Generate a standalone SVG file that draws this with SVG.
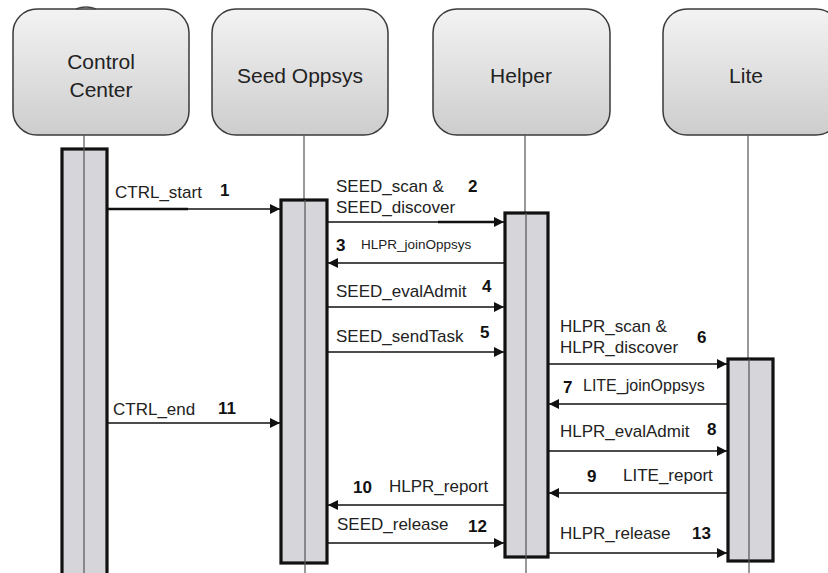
<svg xmlns="http://www.w3.org/2000/svg" width="828" height="573" viewBox="0 0 828 573">
<defs>
<linearGradient id="hg" x1="0" y1="0" x2="0" y2="1">
<stop offset="0" stop-color="#f3f3f3"/>
<stop offset="1" stop-color="#cdcdcd"/>
</linearGradient>
<marker id="ah" viewBox="0 0 10 10" refX="10" refY="5" markerWidth="10" markerHeight="10" markerUnits="userSpaceOnUse" orient="auto">
<path d="M0,0 L10,5 L0,10 z" fill="#111"/>
</marker>
<style>
.head{fill:url(#hg);stroke:#3a3a3a;stroke-width:1.5}
.ht{font-family:"Liberation Sans",Arial,sans-serif;font-size:21px;fill:#222;text-anchor:middle}
.life{stroke:#555;stroke-width:1.2}
.act{fill:#d5d5da;stroke:#111;stroke-width:3.2}
.msg{stroke:#111;stroke-width:1.5;fill:none;marker-end:url(#ah)}
.thick{stroke:#111;stroke-width:2.6}
.lb{font-family:"Liberation Sans",Arial,sans-serif;font-size:17px;fill:#222}
.num{font-family:"Liberation Sans",Arial,sans-serif;font-size:17px;font-weight:bold;fill:#111}
</style>
</defs>
<rect width="828" height="573" fill="#fff"/>
<g id="control-center">
<rect class="head" x="13" y="9" width="176" height="126" rx="24"/>
<path d="M76,9 Q86,5 96,9" fill="none" stroke="#444" stroke-width="1.5"/>
<text class="ht" x="101" y="69">Control</text>
<text class="ht" x="101" y="97">Center</text>
<rect class="act" x="62" y="149" width="45" height="430"/>
<line class="life" x1="84" y1="135" x2="84" y2="573"/>
</g>
<g id="seed-oppsys">
<rect class="head" x="212" y="9" width="176" height="126" rx="24"/>
<text class="ht" x="300" y="83">Seed Oppsys</text>
<line class="life" x1="304" y1="135" x2="304" y2="200"/>
<rect class="act" x="281" y="200" width="46" height="363"/>
<line class="life" x1="305" y1="200" x2="305" y2="573"/>
</g>
<g id="helper">
<rect class="head" x="433" y="9" width="177" height="126" rx="24"/>
<text class="ht" x="521" y="83">Helper</text>
<line class="life" x1="525" y1="135" x2="525" y2="213"/>
<rect class="act" x="505" y="213" width="43" height="344"/>
<line class="life" x1="526" y1="213" x2="526" y2="573"/>
</g>
<g id="lite">
<rect class="head" x="663" y="9" width="177" height="126" rx="24"/>
<text class="ht" x="746" y="83">Lite</text>
<line class="life" x1="748" y1="135" x2="748" y2="359"/>
<rect class="act" x="728" y="359" width="45" height="202"/>
<line class="life" x1="749" y1="359" x2="749" y2="573"/>
</g>
<g id="connectors">
<line class="msg" x1="107" y1="209" x2="280" y2="209"/>
<line class="thick" x1="107" y1="209" x2="188" y2="209"/>
<line class="msg" x1="327" y1="222" x2="504" y2="222"/>
<line class="thick" x1="438" y1="222" x2="496" y2="222"/>
<line class="msg" x1="505" y1="263" x2="328" y2="263"/>
<line class="msg" x1="327" y1="307" x2="504" y2="307"/>
<line class="msg" x1="327" y1="352" x2="504" y2="352"/>
<line class="msg" x1="548" y1="364" x2="727" y2="364"/>
<line class="msg" x1="728" y1="404" x2="549" y2="404"/>
<line class="msg" x1="107" y1="423" x2="280" y2="423"/>
<line class="msg" x1="548" y1="451" x2="727" y2="451"/>
<line class="msg" x1="728" y1="493" x2="549" y2="493"/>
<line class="msg" x1="505" y1="505" x2="328" y2="505"/>
<line class="msg" x1="327" y1="543" x2="504" y2="543"/>
<line class="msg" x1="548" y1="553" x2="727" y2="553"/>
</g>
<g id="labels">
<text class="lb" x="115" y="198">CTRL_start</text><text class="num" x="220" y="196">1</text>
<text class="lb" x="336" y="192">SEED_scan &amp;</text>
<text class="lb" x="336" y="213">SEED_discover</text><text class="num" x="468" y="192">2</text>
<text class="num" x="336" y="251">3</text><text class="lb" x="361" y="249" style="font-size:13.5px">HLPR_joinOppsys</text>
<text class="lb" x="336" y="297">SEED_evalAdmit</text><text class="num" x="482" y="292">4</text>
<text class="lb" x="336" y="342">SEED_sendTask</text><text class="num" x="480" y="338">5</text>
<text class="lb" x="560" y="332">HLPR_scan &amp;</text>
<text class="lb" x="560" y="353">HLPR_discover</text><text class="num" x="697" y="343">6</text>
<text class="num" x="563" y="393">7</text><text class="lb" x="583" y="391" style="font-size:16px">LITE_joinOppsys</text>
<text class="lb" x="113" y="415">CTRL_end</text><text class="num" x="218" y="414">11</text>
<text class="lb" x="560" y="437">HLPR_evalAdmit</text><text class="num" x="707" y="435">8</text>
<text class="num" x="587" y="482">9</text><text class="lb" x="623" y="481">LITE_report</text>
<text class="num" x="353" y="493">10</text><text class="lb" x="389" y="492">HLPR_report</text>
<text class="lb" x="337" y="530">SEED_release</text><text class="num" x="468" y="532">12</text>
<text class="lb" x="560" y="539">HLPR_release</text><text class="num" x="692" y="539">13</text>
</g>
</svg>
